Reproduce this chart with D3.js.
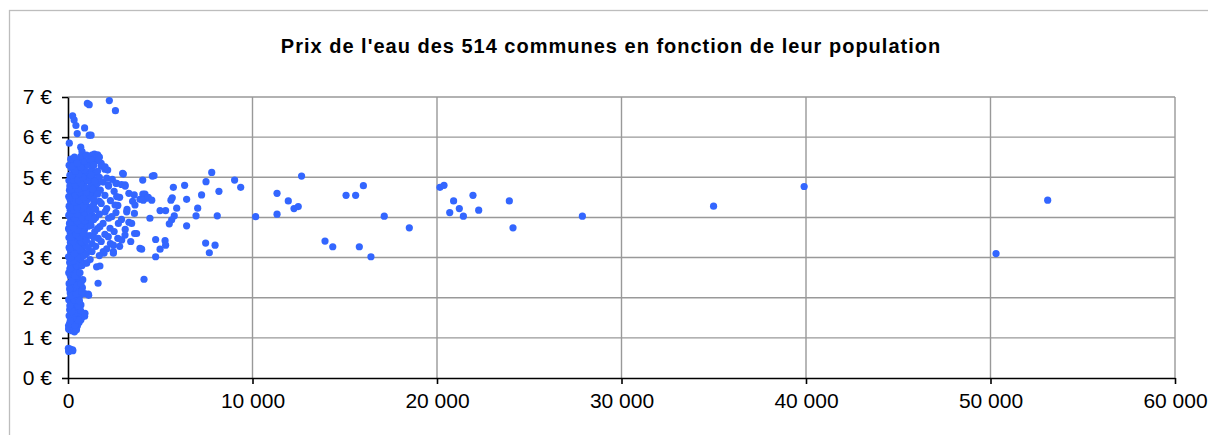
<!DOCTYPE html>
<html>
<head>
<meta charset="utf-8">
<script src="https://cdn.jsdelivr.net/npm/d3@7"></script>
<style>
body{margin:0;background:#fff;}
svg{display:block;}
text{font-family:"Liberation Sans",Arial,sans-serif;fill:#000;}
</style>
</head>
<body>
<svg id="chart"></svg>
<script>
var titre = "Prix de l'eau des 514 communes en fonction de leur population";
var xTicks = [0, 10000, 20000, 30000, 40000, 50000, 60000];
var yTicks = [0, 1, 2, 3, 4, 5, 6, 7];

// [population, prix en euros]
var petitesCommunes = [
	[40,0.66],[120,0.72],[260,0.68],[50,0.68],[250,0.70],[20,0.74],
	[30,1.22],[150,1.28],[80,1.35],[220,1.18],[350,1.15],[420,1.25],[510,1.30],[30,1.30],[600,1.38],[700,1.45],[760,1.52],
	[330,1.40],[180,1.48],[60,1.55],[250,1.60],[450,1.55],[620,1.62],[900,1.54],[920,1.61],[90,1.70],[300,1.75],[520,1.72],
	[150,1.85],[380,1.88],[700,1.82],[40,1.95],[260,2.00],[480,1.98],[650,2.05],[900,2.10],[1100,2.09],[1120,2.06],
	[120,2.12],[340,2.18],[560,2.22],[780,2.25],[200,2.30],[60,2.35],[430,2.38],[650,2.44],[300,2.48],[120,2.55],
	[520,2.55],[800,2.45],[40,2.62],[250,2.65],[420,2.70],[150,2.75],[600,2.78],[350,2.85],[90,2.88],[520,2.92],
	[700,2.95],[230,2.98],[1010,2.86],[980,2.87],[1550,2.77],[1730,2.79],[1630,2.36],
	[30,3.02],[420,3.05],[620,3.08],[150,3.12],[800,3.15],[320,3.18],[520,3.22],[60,3.25],[720,3.25],[230,3.30],
	[440,3.32],[900,3.30],[130,3.38],[620,3.40],[350,3.45],[50,3.50],[800,3.48],[520,3.55],[250,3.58],[1000,3.55],
	[120,3.62],[700,3.62],[400,3.68],[30,3.72],[900,3.70],[600,3.75],[220,3.78],[1100,3.78],[480,3.82],[80,3.85],
	[780,3.88],[330,3.92],[1200,3.90],[600,3.95],[150,3.98],[950,4.00],[420,4.02],[40,4.05],[700,4.08],[280,4.10],
	[1300,4.05],[550,4.15],[120,4.18],[850,4.18],[380,4.22],[1100,4.25],[60,4.28],[650,4.28],[250,4.32],[950,4.35],
	[480,4.38],[1400,4.35],[130,4.42],[750,4.45],[330,4.48],[1150,4.48],[40,4.52],[600,4.55],[900,4.58],[220,4.60],
	[1300,4.60],[450,4.65],[80,4.68],[750,4.70],[1050,4.72],[320,4.75],[1500,4.75],[560,4.78],[150,4.82],[850,4.85],
	[400,4.88],[1200,4.88],[50,4.92],[650,4.95],[250,4.98],[950,5.00],[480,5.02],[100,5.05],[750,5.08],[320,5.12],
	[1100,5.12],[550,5.18],[180,5.22],[850,5.25],[400,5.28],[60,5.30],[650,5.32],[280,5.38],[1000,5.38],[500,5.42],
	[150,5.45],[800,5.45],[350,5.50],[70,5.85],[690,5.75],[760,5.64],
	[250,6.53],[330,6.43],[430,6.29],[500,6.09],[900,6.23],[1150,6.05],[1250,6.05],[1050,6.84],[1150,6.81],
	[2240,6.91],[2570,6.66]
];

var petitesCommunesBis = [
	[100,1.20],[280,1.26],[460,1.20],[180,1.34],[380,1.32],[560,1.44],[250,1.50],[120,1.42],[400,1.62],[680,1.68],
	[200,1.66],[560,1.80],[100,1.80],[330,1.95],[620,1.92],[180,2.05],[450,2.10],[750,2.15],[280,2.25],[90,2.22],
	[500,2.32],[700,2.35],[200,2.42],[380,2.55],[650,2.62],[100,2.72],[480,2.80],[300,2.92],[760,2.80],[150,3.00],
	[560,3.00],[850,3.05],[350,3.10],[680,3.18],[100,3.22],[450,3.28],[280,3.40],[750,3.38],[1000,3.42],[180,3.50],
	[600,3.52],[420,3.58],[850,3.60],[100,3.68],[550,3.68],[300,3.75],[1000,3.80],[700,3.82],[200,3.88],[500,3.90],
	[900,3.92],[350,3.98],[750,4.00],[1100,4.02],[100,4.08],[500,4.08],[900,4.12],[300,4.18],[700,4.20],[1200,4.18],
	[200,4.25],[500,4.25],[850,4.30],[1000,4.40],[350,4.38],[600,4.42],[100,4.48],[850,4.50],[1200,4.55],[400,4.55],
	[650,4.62],[1000,4.62],[250,4.70],[550,4.70],[900,4.75],[1250,4.78],[100,4.78],[400,4.80],[700,4.85],[1050,4.92],
	[300,4.92],[550,4.95],[800,5.00],[1200,5.00],[200,5.05],[600,5.08],[400,5.15],[900,5.18],[1300,5.20],[250,5.28],
	[700,5.25],[1100,5.30],[500,5.35],[900,5.40],[1200,5.45],[700,5.52],[1000,5.55],[1350,5.35],[1500,5.10],[1400,4.95],
	[1600,4.85],[1550,4.65],[1700,4.40],[1350,4.28],[1500,4.00],[1250,3.80],[1450,3.65],[1200,3.55],[1300,3.35],[1100,3.25],
	[1000,3.10]
];

var communesRurales = [
	[1300,5.55],[1430,5.58],[1610,5.56],[1500,5.48],[1700,5.50],[1300,5.42],[1800,5.35],[1650,5.42],[1400,5.30],
	[1800,5.28],[1600,5.15],[2000,5.20],[2010,5.26],[2150,5.18],[1250,5.05],[1700,5.00],[2100,4.98],[2400,4.95],
	[1450,4.90],[1900,4.88],[2600,4.85],[2180,4.81],[2640,4.85],[3090,4.81],[2200,4.78],[1350,4.70],[1750,4.68],
	[2900,4.82],[3100,4.78],[2500,4.65],[1600,4.58],[2000,4.55],[3300,4.60],[2800,4.50],[2640,4.52],[1400,4.45],
	[2300,4.42],[3500,4.40],[1800,4.35],[2700,4.30],[2550,4.31],[3630,4.31],[3900,4.45],[1500,4.20],[2100,4.22],
	[3200,4.20],[3180,4.14],[2010,4.14],[2600,4.12],[1700,4.08],[3600,4.10],[2370,4.02],[2200,3.98],[1400,3.95],
	[2900,3.95],[1900,3.85],[2730,3.85],[3450,3.85],[3300,3.88],[1730,3.77],[2280,3.73],[1600,3.72],[2500,3.65],
	[3100,3.70],[3720,3.60],[3090,3.56],[2000,3.58],[1640,3.48],[2180,3.52],[1400,3.50],[2700,3.48],[2910,3.44],
	[1800,3.40],[2300,3.35],[2460,3.31],[3400,3.40],[1500,3.28],[2100,3.22],[2800,3.28],[1910,3.15],[2460,3.15],
	[1950,3.11],[2460,3.11],[1300,3.15],[1700,3.05],[1200,2.95],
	[3000,5.08],[2960,5.10],[3590,4.56]
];

var communesMoyennes = [
	[4050,4.93],[4660,5.04],[4570,5.03],[7790,5.12],[7480,4.89],[5710,4.75],[6320,4.80],[8180,4.65],[7240,4.56],
	[4060,4.58],[4170,4.58],[4260,4.48],[4080,4.43],[4350,4.50],[4540,4.43],[5650,4.49],[5580,4.43],[6430,4.45],
	[4990,4.17],[5290,4.17],[5890,4.23],[7030,4.23],[5760,4.04],[5620,3.94],[5490,3.84],[6940,4.04],[8090,4.04],
	[4440,3.98],[6430,3.79],[4750,3.45],[5260,3.42],[5290,3.31],[4990,3.21],[3990,3.21],[3900,3.23],[4750,3.02],
	[7460,3.36],[7970,3.31],[7660,3.12],[4120,2.46],[3610,3.60],[9030,4.93],[9360,4.75]
];

var grandesCommunes = [
	[10170,4.02],[11330,4.60],[11330,4.08],[11940,4.41],[12250,4.22],[12480,4.27],[12660,5.03],[13930,3.41],
	[14350,3.27],[15070,4.55],[15590,4.55],[16010,4.79],[15790,3.27],[16420,3.02],[17140,4.03],[18500,3.74],
	[20160,4.75],[20380,4.80],[20900,4.41],[20690,4.12],[21210,4.22],[21430,4.03],[21950,4.55],[22260,4.18],
	[23920,4.41],[24120,3.74],[27880,4.03],[34990,4.28],[39900,4.77],[50300,3.10],[53100,4.43]
];

var width = 1208, height = 435;
var plot = {left:68, right:1175, top:97, bottom:378};

var svg = d3.select("#chart").attr("width", width).attr("height", height);

svg.append("rect").attr("x", 9.5).attr("y", 10.5).attr("width", 1215).attr("height", 440)
	.attr("fill", "#fff").attr("stroke", "#bdbdbd").attr("stroke-width", 1.3);

var x = d3.scaleLinear().domain([0, 60000]).range([plot.left, plot.right]);
var y = d3.scaleLinear().domain([0, 7]).range([plot.bottom, plot.top]);

var fr = d3.formatLocale({decimal:",", thousands:"\u00a0", grouping:[3], currency:["", " €"]});
var fmtX = fr.format(",d");

// grille
svg.append("g").selectAll("line").data(yTicks.filter(function(d){ return d > 0; })).enter().append("line")
	.attr("x1", plot.left).attr("x2", plot.right)
	.attr("y1", function(d){ return y(d); }).attr("y2", function(d){ return y(d); })
	.attr("stroke", "#999").attr("stroke-width", 1.4);
svg.append("g").selectAll("line").data(xTicks.filter(function(d){ return d > 0; })).enter().append("line")
	.attr("y1", plot.top).attr("y2", plot.bottom)
	.attr("x1", function(d){ return x(d); }).attr("x2", function(d){ return x(d); })
	.attr("stroke", "#999").attr("stroke-width", 1.4);

// axes
var xAxis = svg.append("g").attr("transform", "translate(0," + plot.bottom + ")")
	.call(d3.axisBottom(x).tickValues(xTicks).tickFormat(fmtX).tickSize(6).tickPadding(9).tickSizeOuter(0));
var yAxis = svg.append("g").attr("transform", "translate(" + plot.left + ",0)")
	.call(d3.axisLeft(y).tickValues(yTicks).tickFormat(function(d){ return d + " €"; }).tickSize(6).tickPadding(10).tickSizeOuter(0));

[xAxis, yAxis].forEach(function(a){
	a.select(".domain").attr("stroke", "#000").attr("stroke-width", 1.6);
	a.selectAll(".tick line").attr("stroke", "#000").attr("stroke-width", 1.6);
	a.selectAll(".tick text").attr("font-size", 21).attr("font-family", null).attr("fill", "#000");
});

// points
var tous = petitesCommunes.concat(petitesCommunesBis, communesRurales, communesMoyennes, grandesCommunes);
svg.append("g").selectAll("circle").data(tous).enter().append("circle")
	.attr("cx", function(d){ return x(d[0]); })
	.attr("cy", function(d){ return y(d[1]); })
	.attr("r", 3.6)
	.attr("fill", "#3366ff");

svg.append("text").attr("x", 611).attr("y", 53).attr("text-anchor", "middle")
	.attr("font-size", 20).attr("font-weight", "bold").attr("letter-spacing", 1)
	.text(titre);
</script>
</body>
</html>
